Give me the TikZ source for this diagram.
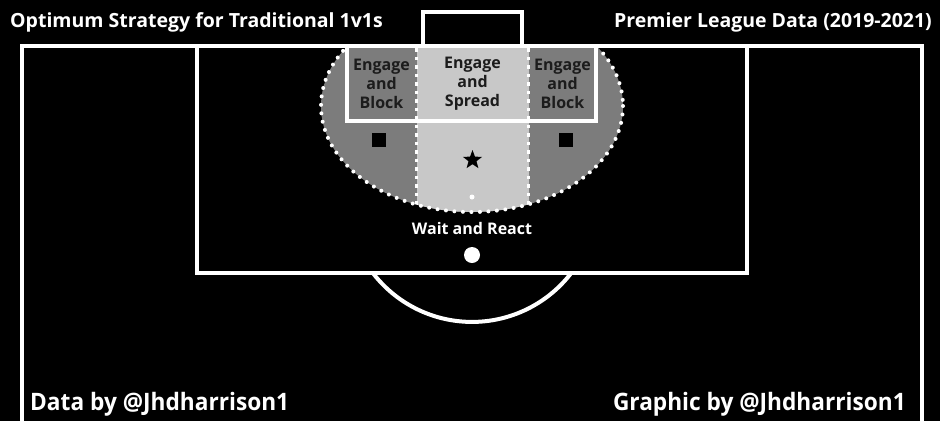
\documentclass[tikz,border=0pt]{standalone}
\usepackage{fontspec}
\setmainfont{Open Sans}
\usetikzlibrary{shapes.geometric}
\definecolor{zonegray}{RGB}{124,124,124}
\definecolor{bandgray}{RGB}{200,200,200}
\definecolor{inkdark}{RGB}{28,28,28}
\begin{document}
\begin{tikzpicture}[x=1pt,y=-1pt,
  pitchline/.style={draw=white,line width=4pt},
  dotwhite/.style={draw=white,line width=4pt,line cap=round,dash pattern=on 0pt off 8.5pt},
  bandedge/.style={draw=white,line width=3.5pt,dash pattern=on 3.5pt off 5pt},
  zonetext/.style={font=\bfseries\fontsize{16}{19}\selectfont,text=inkdark,align=center,inner sep=0pt},
  titletext/.style={font=\bfseries\fontsize{19.5}{22}\selectfont,text=white,inner sep=0pt},
  credittext/.style={font=\bfseries\fontsize{24}{28}\selectfont,text=white,inner sep=0pt},
  labeltext/.style={font=\bfseries\fontsize{16}{18}\selectfont,text=white,inner sep=0pt},
  ]
\fill[black] (0,0) rectangle (940,421);
\useasboundingbox (0,0) rectangle (940,421);
% zones
\begin{scope}
  \clip (0,46) rectangle (940,421);
  \fill[zonegray] (472,106) ellipse [x radius=151, y radius=106];
  \clip (472,106) ellipse [x radius=151, y radius=106];
  \fill[bandgray] (416.5,0) rectangle (528.5,421);
\end{scope}
\begin{scope}
  \clip (0,49) rectangle (940,421);
  \draw[dotwhite] (472,106) ellipse [x radius=151, y radius=106];
\end{scope}
\begin{scope}
  \clip (472,106) ellipse [x radius=151, y radius=106];
  \draw[bandedge] (416.5,48) -- (416.5,215);
  \draw[bandedge] (528.5,48) -- (528.5,215);
\end{scope}
% pitch lines
\draw[pitchline] (22,421) -- (22,46) -- (922,46) -- (922,421);
\draw[pitchline] (197,46) -- (197,272.5) -- (747,272.5) -- (747,46);
\draw[pitchline] (347,46) -- (347,120.5) -- (596,120.5) -- (596,46);
\draw[pitchline] (423,46) -- (423,12) -- (522,12) -- (522,46);
\draw[pitchline] (571.6,272.5) arc[start angle=37.2, end angle=142.8, radius=125];
% markers
\node[fill=black,minimum size=14pt,inner sep=0pt] (sqL) at (378.5,140) {};
\node[fill=black,minimum size=14pt,inner sep=0pt] (sqR) at (565.5,140) {};
\node[star,star points=5,star point ratio=2.4,fill=black,minimum size=20pt,inner sep=0pt] (starmark) at (472.5,160) {};
\node[circle,fill=white,minimum size=5pt,inner sep=0pt] (smalldot) at (472,197) {};
\node[circle,fill=white,minimum size=16pt,inner sep=0pt] (penspot) at (472,255) {};
% zone labels
\node[zonetext] (blockL) at (381.5,84) {Engage\\and\\Block};
\node[zonetext] (spread) at (472.5,84) {Engage\\and\\Spread};
\node[zonetext] (blockR) at (562.5,84) {Engage\\and\\Block};
\node[labeltext] (wait) at (472,228) {Wait and React};
% captions
\node[titletext,anchor=base west] (title) at (10,27) {Optimum Strategy for Traditional 1v1s};
\node[titletext,anchor=base east] (league) at (932,27) {Premier League Data (2019-2021)};
\node[credittext,anchor=base west] (databy) at (30,410) {\scalebox{0.945}[1]{Data by @Jhdharrison1}};
\node[credittext,anchor=base east] (graphicby) at (906,410) {\scalebox{0.945}[1]{Graphic by @Jhdharrison1}};
\end{tikzpicture}
\end{document}
